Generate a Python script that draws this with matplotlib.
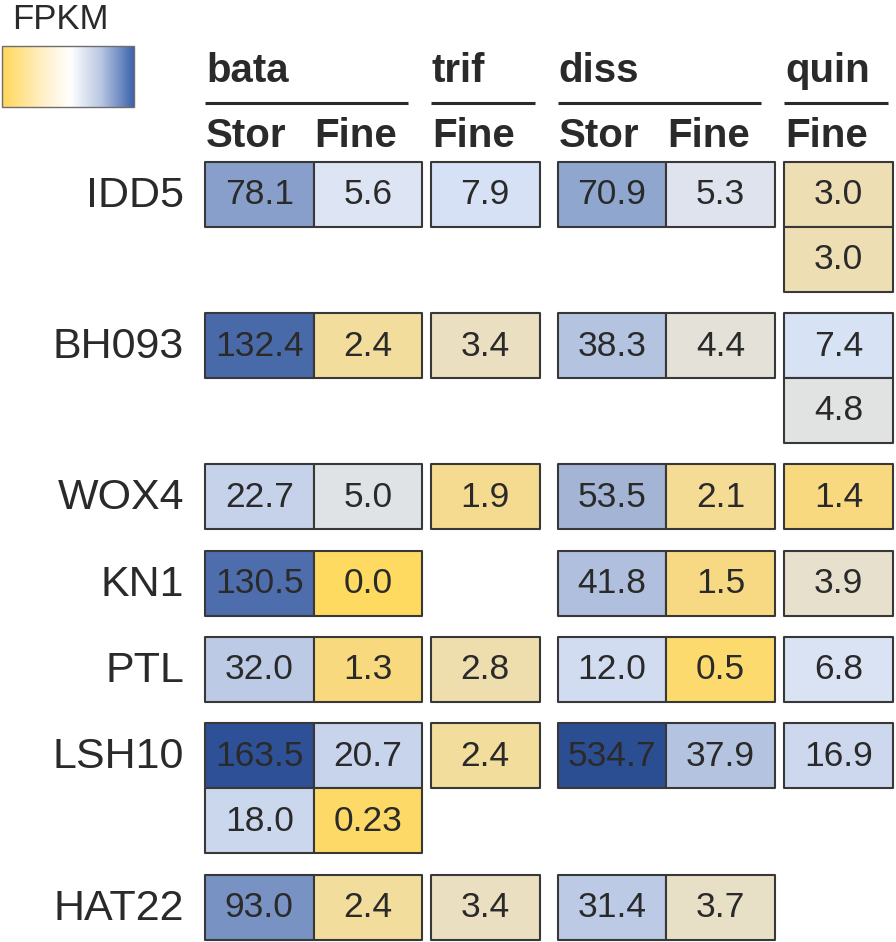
import numpy as np
import matplotlib
matplotlib.use("Agg")
import matplotlib.pyplot as plt
import matplotlib.colors as mcolors
from matplotlib.patches import Rectangle
from matplotlib.collections import PatchCollection

plt.rcParams['font.family'] = ['Liberation Sans', 'DejaVu Sans']

# data: one list per gene in each column, stacked entries = extra transcripts
genes = ["IDD5", "BH093", "WOX4", "KN1", "PTL", "LSH10", "HAT22"]
groups = ["bata", "trif", "diss", "quin"]
group_subs = [["Stor", "Fine"], ["Fine"], ["Stor", "Fine"], ["Fine"]]

bata_stor = [[78.1], [132.4], [22.7], [130.5], [32.0], [163.5, 18.0], [93.0]]
bata_fine = [[5.6], [2.4], [5.0], [0.0], [1.3], [20.7, 0.23], [2.4]]
trif_fine = [[7.9], [3.4], [1.9], [], [2.8], [2.4], [3.4]]
diss_stor = [[70.9], [38.3], [53.5], [41.8], [12.0], [534.7], [31.4]]
diss_fine = [[5.3], [4.4], [2.1], [1.5], [0.5], [37.9], [3.7]]
quin_fine = [[3.0, 3.0], [7.4, 4.8], [1.4], [3.9], [6.8], [16.9], []]
columns = [bata_stor, bata_fine, trif_fine, diss_stor, diss_fine, quin_fine]

# colour scale (log1p) yellow -> grey -> blue
norm = mcolors.FuncNorm((np.log1p, np.expm1), vmin=0, vmax=550)
node_vals = [0, 1.4, 2.4, 3.4, 4.4, 5.5, 7.5, 17, 32, 53, 75, 93, 131, 163, 550]
node_cols = ["#FFDA60", "#F8D980", "#F3DD9E", "#EADFC0", "#E3E1D8", "#DDE4F3",
             "#D8E2F5", "#CDD8EE", "#BCCAE5", "#A4B5D6", "#8CA3CD", "#7B93C5",
             "#4C6CAB", "#2D5096", "#2B4E92"]
cmap = mcolors.LinearSegmentedColormap.from_list(
    "fpkm", list(zip([float(norm(v)) for v in node_vals], node_cols)))

txt = "#2a2a2a"
fig = plt.figure(figsize=(8.96, 9.42), dpi=100)
ax = fig.add_axes([0, 0, 1, 1])
ax.set_xlim(0, 896)
ax.set_ylim(942, 0)
ax.axis("off")

# layout in pixels
cell_w, cell_h, gap = 108.5, 65, 21.3
group_x = [205, 431, 557.7, 784.3]
col_x = []
for gx, subs in zip(group_x, group_subs):
    for k in range(len(subs)):
        col_x.append(gx + k * cell_w)
top0 = 161.7

n_rows = [max(len(c[g]) for c in columns) for g in range(len(genes))]
gene_top = []
y = top0
for n in n_rows:
    gene_top.append(y)
    y += n * cell_h + gap

# headers
for gx, name, subs in zip(group_x, groups, group_subs):
    ax.text(gx + 1, 82, name, fontsize=29, fontweight="bold", color=txt,
            ha="left", va="baseline")
    ax.plot([gx, gx + 99.5 * len(subs) + 4], [103, 103], color="#2a2a2a", lw=2.2,
            solid_capstyle="butt")
    for k, s in enumerate(subs):
        ax.text(gx + k * cell_w + 1, 147, s, fontsize=29, fontweight="bold",
                color=txt, ha="left", va="baseline")

# cells
patches, vals = [], []
for ci, col in enumerate(columns):
    for gi, entries in enumerate(col):
        for ri, v in enumerate(entries):
            x0 = col_x[ci]
            y0 = gene_top[gi] + ri * cell_h
            patches.append(Rectangle((x0, y0), cell_w, cell_h))
            vals.append(v)
            lab = f"{v:.1f}" if round(v, 1) == v else f"{v:.2f}"
            ax.text(x0 + cell_w / 2, y0 + 42.5, lab, fontsize=25.5, color=txt,
                    ha="center", va="baseline")
pc = PatchCollection(patches, cmap=cmap, norm=norm, edgecolor="#383838",
                     linewidth=1.5, zorder=1)
pc.set_array(np.array(vals))
ax.add_collection(pc)

for g, t in zip(genes, gene_top):
    ax.text(184, t + 45, g, fontsize=31, color=txt, ha="right", va="baseline")

# legend
ax.text(12, 29, "FPKM", fontsize=25, color=txt, ha="left", va="baseline")
leg_cmap = mcolors.LinearSegmentedColormap.from_list(
    "leg", [(0, "#FFD75A"), (0.33, "#FFF1CC"), (0.52, "#FFFFFF"),
            (0.75, "#B9C7E3"), (1, "#3D63AC")])
ax.imshow(np.linspace(0, 1, 256)[None, :], cmap=leg_cmap, aspect="auto",
          extent=[2, 134, 107, 46], zorder=1)
ax.add_patch(Rectangle((2, 46), 132, 61, fill=False, edgecolor="#6e6e6e", lw=1))
ax.set_xlim(0, 896)
ax.set_ylim(942, 0)

fig.savefig("out.png", dpi=100)
